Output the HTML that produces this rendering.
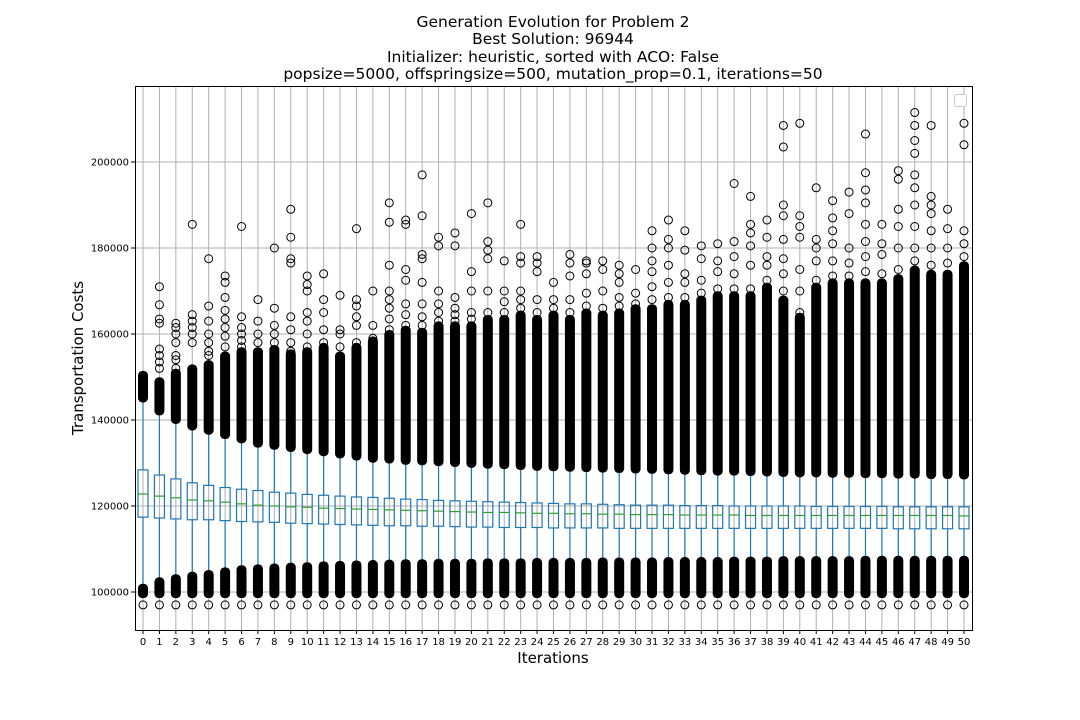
<!DOCTYPE html>
<html><head><meta charset="utf-8"><style>body{margin:0;background:#fff}svg{display:block;font-family:"DejaVu Sans","Liberation Sans",sans-serif}</style></head>
<body>
<svg id="c" width="1080" height="720" viewBox="0 0 1080 720">
<g id="grid"></g>
<g id="marks"></g>
<rect x="135.5" y="86.5" width="837" height="544" fill="none" stroke="#000" stroke-width="1"/>
<g id="axes"></g>
<g font-size="15.5" text-anchor="middle" fill="#000">
<text x="553" y="27">Generation Evolution for Problem 2</text>
<text x="553" y="44">Best Solution: 96944</text>
<text x="553" y="62">Initializer: heuristic, sorted with ACO: False</text>
<text x="553" y="79">popsize=5000, offspringsize=500, mutation_prop=0.1, iterations=50</text>
</g>
<text x="553" y="663" font-size="15" text-anchor="middle">Iterations</text>
<text transform="translate(83,358) rotate(-90)" font-size="15" text-anchor="middle">Transportation Costs</text>
<rect x="954.5" y="94.5" width="12" height="12" rx="2" fill="#fff" stroke="#ccc"/>
</svg>
<script>
const q3=[128400,127200,126300,125400,124800,124300,123900,123600,123200,123000,122700,122500,122300,122100,122000,121800,121600,121500,121300,121200,121100,121000,120900,120800,120700,120600,120500,120500,120400,120300,120200,120200,120200,120100,120100,120100,120000,120000,120000,120000,120000,119900,119900,119900,119900,119900,119800,119800,119800,119800,119800];
const medians=[122800,122300,121900,121400,121200,120900,120500,120200,120000,119800,119700,119500,119400,119300,119200,119100,119000,118900,118800,118700,118600,118500,118500,118400,118300,118300,118200,118200,118100,118100,118000,118000,118000,117900,117900,117900,117900,117800,117800,117800,117800,117800,117800,117800,117800,117800,117800,117800,117800,117800,117700];
const q1=[117400,117200,117000,116800,116800,116600,116400,116300,116200,116000,115900,115800,115700,115600,115500,115400,115400,115300,115300,115200,115100,115100,115000,115000,115000,114900,114900,114900,114900,114800,114800,114800,114800,114800,114800,114800,114800,114800,114800,114800,114800,114800,114800,114800,114800,114800,114700,114700,114700,114700,114700];
const lowWhisker=[101000,102500,103200,103800,104200,104800,105300,105500,105700,105900,106000,106200,106300,106400,106500,106600,106700,106700,106800,106800,106800,106900,106900,106900,107000,107000,107000,107000,107100,107100,107100,107100,107200,107200,107200,107200,107300,107300,107300,107400,107400,107400,107400,107400,107500,107500,107500,107500,107500,107500,107500];
const highWhisker=[145000,142000,140000,138500,137500,136500,135500,134500,134000,133500,133000,132500,132000,131500,131000,130800,130500,130400,130200,130000,129800,129600,129500,129300,129100,129000,128900,128800,128700,128600,128500,128400,128300,128200,128100,128000,128000,127900,127800,127700,127600,127600,127500,127500,127400,127400,127300,127300,127200,127200,127100];
const highDenseTop=[150500,149000,151000,152000,153000,155000,156000,156000,156500,155500,156000,157000,155000,157000,158500,160000,161000,160500,162000,162000,162000,163500,163500,164500,163500,164500,163500,165000,164500,165000,166000,166000,167000,167000,168000,169000,169000,169000,171000,168000,164000,171000,172000,172000,172000,172000,173000,175000,174000,174000,176000];
const sparse=[[],[152000,153500,155000,156500,162500,163500,166800,171000],[152000,154000,155000,158000,160000,161500,162500],[158000,160000,161500,163000,164500,185500],[155000,156000,158000,160000,163000,166500,177500],[157000,159500,161500,163500,165500,168500,172000,173500],[157000,158500,160000,161500,164000,185000],[158000,160000,163000,168000],[158000,160000,162000,166000,180000],[156000,158000,161000,164000,176500,177500,182500,189000],[157000,160000,163000,165000,170000,171500,173500],[158000,161000,165000,168000,174000],[157000,160000,161000,169000],[158000,162000,164000,166500,168000,184500],[159000,162000,170000],[161000,163500,166000,168000,170000,176000,186000,190500],[162000,164500,167000,172500,175000,185500,186500],[162000,164000,167000,172000,177500,178500,187500,197000],[163000,165000,167000,170000,180500,182500],[163000,164500,166000,168500,180500,183500],[163500,165000,170000,174500,188000],[165000,170000,177500,179500,181500,190500],[165000,167500,170000,177000],[166000,168000,170000,176500,178000,185500],[165000,168000,174500,176500,178000],[166000,168000,172000],[165000,168000,173500,176500,178500],[166500,169500,174000,176500,177000],[166000,170000,175000,177000],[166500,168500,172000,174000,176000],[167000,169500,175000],[168000,171000,174500,177000,180000,184000],[168500,172000,176000,180000,182000,186500],[168500,172000,174000,179500,184000],[169500,172500,177500,180500],[170500,174500,177000,181000],[170500,174000,178000,181500,195000],[170500,176000,180500,183500,185500,192000],[172500,176000,178000,182500,186500],[170000,174000,177500,182000,187500,190000,203500,208500],[165000,170000,175000,182500,185000,187500,209000],[172500,177000,180000,182000,194000],[173500,177000,181000,184000,187000,191000],[173500,176500,180000,188000,193000],[174500,178000,181500,185500,190500,193500,197500,206500],[174000,178500,181000,185500],[175000,180000,185000,189000,196000,198000],[177000,180000,185000,190000,194000,197000,202000,205000,208500,211500],[176000,180000,184000,188000,190000,192000,208500],[176500,180000,184500,189000],[178000,181000,184000,204000,209000]];
const bestValue=97000;
const lowDenseBottom=99500;
const yTicks=[100000,120000,140000,160000,180000,200000];

const NS="http://www.w3.org/2000/svg";
const x=i=>143+i*16.42;
const y=v=>592-(v-100000)*0.0043;
function mk(tag,attrs,parent){const e=document.createElementNS(NS,tag);for(const k in attrs)e.setAttribute(k,attrs[k]);parent.appendChild(e);return e;}
const grid=document.getElementById('grid'),marks=document.getElementById('marks'),axes=document.getElementById('axes');
yTicks.forEach(t=>{
 const g=mk('line',{x1:135,x2:972,y1:y(t),y2:y(t),stroke:'#b0b0b0','stroke-width':1},grid);
 
 
 const tk=mk('line',{x1:131,x2:135,y1:y(t),y2:y(t),stroke:'#000'},axes);
 
 
 const tx=mk('text',{x:129,y:y(t)+3.5,'font-size':10,'text-anchor':'end'},axes);
 tx.textContent=t;
 
 
});
medians.forEach((m,i)=>{
 const cx=x(i);
 const g=mk('line',{x1:cx,x2:cx,y1:86,y2:630,stroke:'#b0b0b0','stroke-width':1},grid);
 
 
 const tk=mk('line',{x1:cx,x2:cx,y1:630,y2:634,stroke:'#000'},axes);
 
 
 const tx=mk('text',{x:cx,y:645,'font-size':10,'text-anchor':'middle'},axes);
 tx.textContent=i;
 
 
 const g2=mk('g',{},marks);
 
 
 mk('line',{x1:cx,x2:cx,y1:y(q1[i]),y2:y(lowWhisker[i]),stroke:'#1f77b4','stroke-width':1.2},g2);
 mk('line',{x1:cx,x2:cx,y1:y(q3[i]),y2:y(highWhisker[i]),stroke:'#1f77b4','stroke-width':1.2},g2);
 mk('rect',{x:cx-5,y:y(q3[i]),width:10,height:y(q1[i])-y(q3[i]),fill:'none',stroke:'#1f77b4','stroke-width':1.2},g2);
 mk('line',{x1:cx-5,x2:cx+5,y1:y(m),y2:y(m),stroke:'#2ca02c','stroke-width':1.2},g2);
 mk('rect',{x:cx-5,y:y(lowWhisker[i])-4,width:10,height:y(lowDenseBottom)-y(lowWhisker[i])+8,rx:4.5,fill:'#000'},g2);
 mk('rect',{x:cx-5,y:y(highDenseTop[i])-4,width:10,height:y(highWhisker[i])-y(highDenseTop[i])+8,rx:4.5,fill:'#000'},g2);
 mk('circle',{cx:cx,cy:y(bestValue),r:4,fill:'none',stroke:'#000','stroke-width':1},g2);
 sparse[i].forEach(v=>mk('circle',{cx:cx,cy:y(v),r:4,fill:'none',stroke:'#000','stroke-width':1},g2));
});
</script>
</body></html>
